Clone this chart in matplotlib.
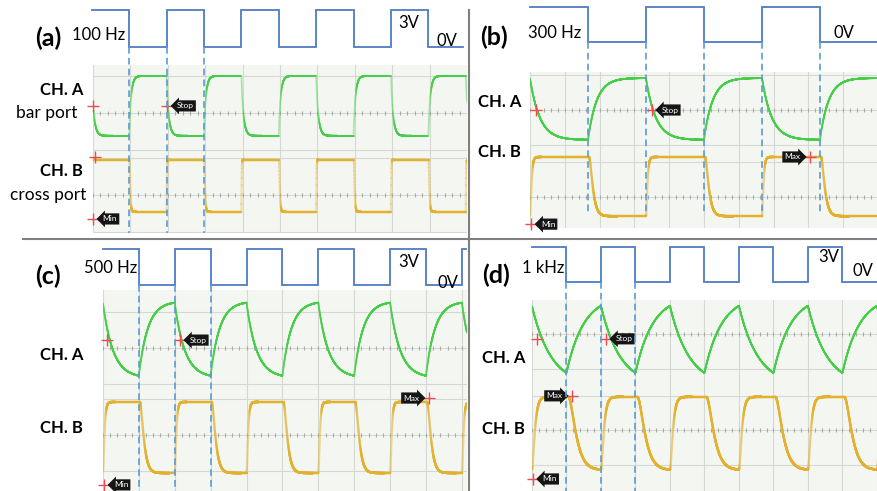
import numpy as np
import matplotlib

matplotlib.use("Agg")
import matplotlib.pyplot as plt
from matplotlib.collections import LineCollection
from matplotlib import transforms
from matplotlib.lines import Line2D

plt.rcParams["font.family"] = ["Lato", "DejaVu Sans"]

W, H = 878, 491

PANEL_TAGS = ["(a)", "(b)", "(c)", "(d)"]
FREQ_LABELS = ["100 Hz", "300 Hz", "500 Hz", "1 kHz"]
FREQ_HZ = [100, 300, 500, 1000]
MS_PER_DIV = [5.0, 1.0, 1.0, 0.5]
EDGE_OFFSET_MS = [-0.15, 0.0, 0.0, 0.0]   # first rising edge of the drive
SQ_START_MS = [-0.15, 0.0, 0.0, 0.0]
SQ_END_MS = [49.5, 10.0, 10.1, 5.0]
DASHED_EDGES = [3, 5, 3, 3]

# settled trace levels, in divisions from each channel's centre line
GREEN_HIGH = [0.99, 0.92, 1.30, 1.12]
GREEN_LOW = [-0.61, -0.86, -0.83, -1.52]
YELLOW_HIGH = [0.94, 1.15, 0.92, 0.96]
YELLOW_LOW = [-0.45, -0.55, -1.06, -1.16]

# response of the switch (ms); cross port goes through two stages
GREEN_TAU_UP = 0.25
GREEN_TAU_DOWN = 0.28
YELLOW_TAU_UP = 0.025
YELLOW_TAU_DOWN = 0.065
YELLOW_FALL_DELAY = 0.03

# scope cursors: channel, time (ms), level (div from channel centre), tag
CURSORS = [
    [("A", 0.0, 0.19, None), ("A", 9.9, 0.19, "Stop"),
     ("B", 0.27, 1.02, None), ("B", 0.0, -0.64, "Min")],
    [("A", 0.17, 0.0, None), ("A", 3.5, 0.0, "Stop"),
     ("B", 8.05, 1.15, "Max"), ("B", 0.03, -0.78, "Min")],
    [("A", 0.11, 0.22, None), ("A", 2.14, 0.22, "Stop"),
     ("B", 9.08, 1.03, "Max"), ("B", 0.03, -1.39, "Min")],
    [("A", 0.07, -0.14, None), ("A", 1.07, -0.14, "Stop"),
     ("B", 0.58, 0.99, "Max"), ("B", 0.01, -1.42, "Min")],
]

# pixel layout of each panel
LAYOUT = [
    dict(scope=(93, 467, 65, 233), pxdiv=37.4, ch=(113, 195), sq=(10, 47),
         dash_bottom=233, tag=(35, 46), freq=(72, 40), v3=(398, 28),
         v0=(437, 46), cha=(40, 95), chb=(40, 176),
         extra=[("bar port", 16, 118), ("cross port", 10, 200)]),
    dict(scope=(530, 878, 72, 228), pxdiv=34.8, ch=(110, 197), sq=(7, 42),
         dash_bottom=213, tag=(480, 45), freq=(528, 38), v3=None,
         v0=(834, 38), cha=(478, 107), chb=(478, 157), extra=[]),
    dict(scope=(103, 467, 290, 491), pxdiv=35.9, ch=(348, 435), sq=(249, 285),
         dash_bottom=491, tag=(35, 284), freq=(84, 273), v3=(398, 267),
         v0=(438, 288), cha=(40, 360), chb=(40, 433), extra=[]),
    dict(scope=(532, 878, 300, 491), pxdiv=34.5, ch=(334, 430), sq=(247, 282),
         dash_bottom=491, tag=(482, 283), freq=(522, 273), v3=(818, 262),
         v0=(853, 276), cha=(482, 363), chb=(482, 434), extra=[]),
]

GREEN = "#45cf48"
YELLOW = "#e3b12c"
DRIVE = "#4f7cc4"
DASH = "#5b9bd5"
CURSOR = "#ee4a52"


def rect(left, right, top, bottom):
    return [left / W, 1 - bottom / H, (right - left) / W, (bottom - top) / H]


def drive_high(k, t):
    half = 500.0 / FREQ_HZ[k]
    return np.floor((t - EDGE_OFFSET_MS[k]) / half) % 2 == 0


def respond(target, dt, tau_up, tau_down):
    y = np.empty_like(target)
    y[0] = target[0]
    a_up = 1 - np.exp(-dt / tau_up)
    a_dn = 1 - np.exp(-dt / tau_down)
    for i in range(1, len(target)):
        d = target[i] - y[i - 1]
        y[i] = y[i - 1] + d * (a_up if d > 0 else a_dn)
    return y


def draw_trace(ax, t, v, color, k, pxdiv, lw):
    xs = t / MS_PER_DIV[k] * pxdiv
    ys = v * pxdiv
    slope = np.abs(np.diff(ys)) / np.maximum(np.diff(xs), 1e-9)
    alpha = np.clip(4.0 / np.maximum(slope, 1e-9), 0.3, 1.0)
    pts = np.column_stack([t, v]).reshape(-1, 1, 2)
    segs = np.concatenate([pts[:-1], pts[1:]], axis=1)
    cols = np.array([matplotlib.colors.to_rgba(color)] * len(segs))
    cols[:, 3] = alpha
    ax.add_collection(LineCollection(segs, colors=cols, linewidths=lw,
                                     capstyle="round"))


fig = plt.figure(figsize=(W / 100, H / 100), dpi=100)

for k, lay in enumerate(LAYOUT):
    left, right, top, bottom = lay["scope"]
    pxdiv = lay["pxdiv"]
    xmax = (right - left) / pxdiv * MS_PER_DIV[k]
    ymax = (bottom - top) / pxdiv
    ca = (bottom - lay["ch"][0]) / pxdiv
    cb = (bottom - lay["ch"][1]) / pxdiv

    # scope screen
    ax = fig.add_axes(rect(left, right, top, bottom))
    ax.set_xlim(0, xmax)
    ax.set_ylim(0, ymax)
    ax.set_facecolor("#f4f6f2")
    for s in ax.spines.values():
        s.set_visible(False)
    ax.set_xticks([])
    ax.set_yticks([])
    for i in range(0, 11):
        ax.axvline(i * MS_PER_DIV[k], color="#d6d9d3", lw=0.8, zorder=0)
    for c in (ca, cb):
        for off in (-1, 1):
            if 0 < c + off < ymax:
                ax.axhline(c + off, color="#d6d9d3", lw=0.8, zorder=0)
        ax.axhline(c, color="#d0d2cf", lw=0.6, zorder=0)
        tk = np.arange(0, xmax, MS_PER_DIV[k] / 5)
        ax.plot(tk, np.full_like(tk, c), ls="none", marker="|", ms=3,
                mew=0.8, color="#a9aba8", zorder=0)

    # traces
    half = 500.0 / FREQ_HZ[k]
    dt = MS_PER_DIV[k] * 10 / 4000
    t = np.arange(-8 * half, xmax + dt, dt)
    hi = drive_high(k, t)
    g_target = np.where(hi, GREEN_LOW[k], GREEN_HIGH[k]) + ca
    g = respond(g_target, dt, GREEN_TAU_UP, GREEN_TAU_DOWN)
    hi_del = hi | drive_high(k, t - YELLOW_FALL_DELAY)
    y_target = np.where(hi_del, YELLOW_HIGH[k], YELLOW_LOW[k]) + cb
    yv = respond(y_target, dt, YELLOW_TAU_UP, YELLOW_TAU_DOWN)
    yv = respond(yv, dt, YELLOW_TAU_UP, YELLOW_TAU_DOWN)
    keep = t >= 0
    draw_trace(ax, t[keep], g[keep], GREEN, k, pxdiv, 1.3)
    draw_trace(ax, t[keep], yv[keep], YELLOW, k, pxdiv, 1.7)

    # cursors and tags
    for ch, tc, lv, tag in CURSORS[k]:
        yc = (ca if ch == "A" else cb) + lv
        ax.plot(tc, yc, marker="+", ms=8, mew=1.0, color=CURSOR,
                clip_on=False, zorder=5)
        if tag:
            left_side = tag == "Max"
            ax.annotate(tag, (tc, yc), xytext=(-7 if left_side else 7, 0),
                        textcoords="offset points",
                        ha="right" if left_side else "left", va="center",
                        fontsize=6, color="white", zorder=6,
                        bbox=dict(boxstyle=("rarrow" if left_side else "larrow")
                                  + ",pad=0.25", fc="#151515", ec="none"))

    # drive signal
    sq_top, sq_low = lay["sq"]
    axs = fig.add_axes(rect(left, right, sq_top, sq_low))
    axs.set_xlim(0, xmax)
    axs.set_ylim(0, 3)
    axs.axis("off")
    edges = EDGE_OFFSET_MS[k] + half * np.arange(1, 100)
    edges = edges[edges < SQ_END_MS[k]]
    xs = [SQ_START_MS[k]]
    ys = [3.0]
    level = 3.0
    for e in edges:
        xs += [e, e]
        ys += [level, 3.0 - level]
        level = 3.0 - level
    xs.append(SQ_END_MS[k])
    ys.append(level)
    axs.plot(xs, ys, color=DRIVE, lw=1.3, clip_on=False,
             solid_joinstyle="miter")

    # dashed guides from the drive edges down through the screen
    tr = transforms.blended_transform_factory(ax.transData, fig.transFigure)
    for e in edges[:DASHED_EDGES[k]]:
        fig.add_artist(Line2D([e, e], [1 - sq_low / H, 1 - lay["dash_bottom"] / H],
                              transform=tr, color=DASH, lw=1.2,
                              dashes=(4, 2.5), zorder=10))

    # labels
    def put(txt, xy, size, weight="normal"):
        fig.text(xy[0] / W, 1 - xy[1] / H, txt, fontsize=size,
                 fontweight=weight, ha="left", va="baseline", color="black")

    put(PANEL_TAGS[k], lay["tag"], 18, "bold")
    put(FREQ_LABELS[k], lay["freq"], 12)
    if lay["v3"]:
        put("3V", lay["v3"], 12)
    put("0V", lay["v0"], 12)
    put("CH. A", lay["cha"], 12, "bold")
    put("CH. B", lay["chb"], 12, "bold")
    for txt, x, y in lay["extra"]:
        put(txt, (x, y), 12.5)

# panel dividers
fig.add_artist(Line2D([469 / W, 469 / W], [1 - 10 / H, 0],
                      transform=fig.transFigure, color="#7f7f7f", lw=1.5))
fig.add_artist(Line2D([23 / W, 1], [1 - 239 / H, 1 - 239 / H],
                      transform=fig.transFigure, color="#7f7f7f", lw=1.5))

fig.savefig("out.png", dpi=100)
